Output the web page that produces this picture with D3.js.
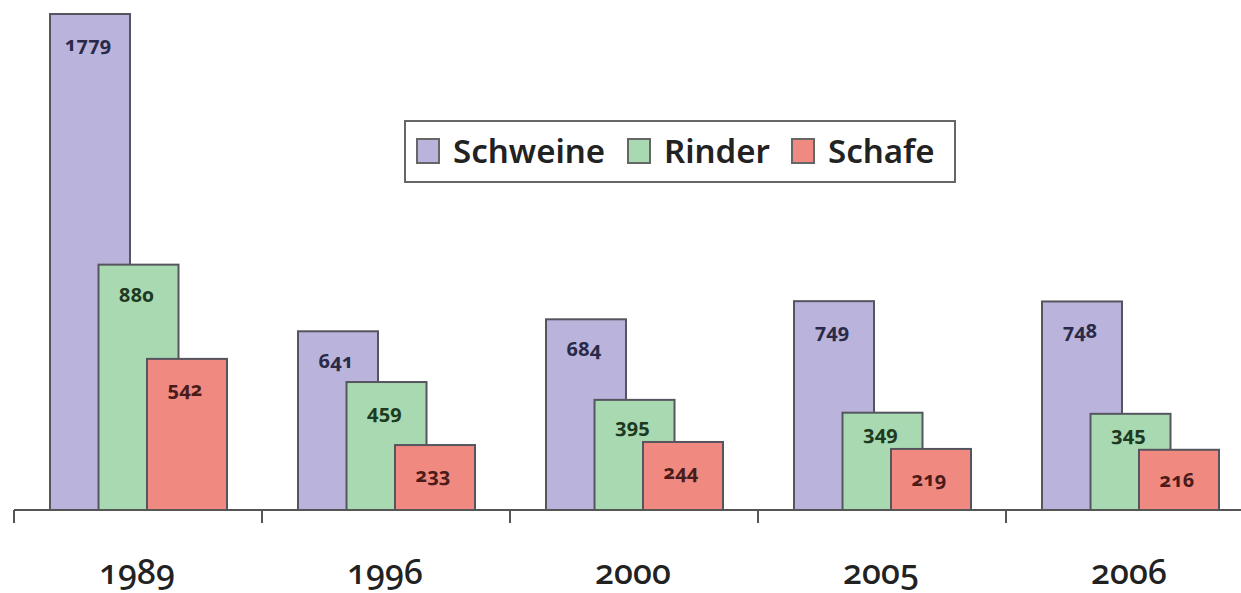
<!DOCTYPE html>
<html lang="de">
<head>
    <meta charset="UTF-8">
    <title>Schweine, Rinder, Schafe</title>
    <style>
        body {
            margin: 0;
            background: #fff;
        }
        svg text {
            font-family: "Noto Sans", "Open Sans", sans-serif;
            font-variant-numeric: oldstyle-nums;
        }
        .bar {
            stroke: #55555f;
            stroke-width: 2px;
        }
        .val {
            font-size: 20px;
            font-weight: 700;
            text-anchor: middle;
        }
        .year {
            font-size: 34px;
            font-weight: 500;
            fill: #222;
            text-anchor: middle;
        }
        .legend-text {
            font-size: 33px;
            font-weight: 600;
            fill: #222;
        }
    </style>
</head>
<body>
<svg id="chart" width="1241" height="593"></svg>

<script src="https://d3js.org/d3.v7.min.js"></script>
<script>
const years = ['1989', '1996', '2000', '2005', '2006'];
const seriesNames = ['Schweine', 'Rinder', 'Schafe'];
const schweine = [1779, 641, 684, 749, 748];
const rinder = [880, 459, 395, 349, 345];
const schafe = [542, 233, 244, 219, 216];

const fills = ['#bab4dc', '#a9d9b1', '#f08a81'];
const textColors = ['#2a2a48', '#1e3a22', '#4a1b18'];

const svg = d3.select('#chart');
const baseY = 510;

const x = d3.scaleBand()
    .domain(years)
    .range([14, 1254])
    .padding(0);

// the three bars of a year overlap each other
const xs = d3.scalePoint()
    .domain(seriesNames)
    .range([36, 133]);
const barW = 80;

const y = d3.scaleLinear()
    .domain([0, 1800])
    .range([baseY, baseY - 1800 * 0.2788]);

const seriesData = [schweine, rinder, schafe];
const rows = [];
years.forEach((yr, i) => {
    seriesData.forEach((arr, s) => {
        // the next bar covers the lower part, so keep the label above it
        const next = seriesData[s + 1];
        rows.push({year: yr, s: s, name: seriesNames[s], v: arr[i], next: next ? next[i] : null});
    });
});

// bars, drawn so that later series sit on top of earlier ones
const bars = svg.append('g');
bars.selectAll('rect')
    .data(rows)
    .enter().append('rect')
    .attr('class', 'bar')
    .attr('x', d => x(d.year) + xs(d.name))
    .attr('y', d => y(d.v))
    .attr('width', barW)
    .attr('height', d => baseY - y(d.v))
    .attr('fill', d => fills[d.s]);

bars.selectAll('text')
    .data(rows)
    .enter().append('text')
    .attr('class', 'val')
    .attr('x', d => x(d.year) + xs(d.name) + barW / 2 - 2)
    .attr('y', d => {
        let ty = y(d.v) + 37;
        if (d.next !== null) ty = Math.min(ty, y(d.next) - 9);
        return ty;
    })
    .attr('fill', d => textColors[d.s])
    .text(d => d.v);

// x axis: line with ticks on band borders
const axis = svg.append('g');
axis.append('line')
    .attr('x1', 14).attr('x2', 1241)
    .attr('y1', baseY).attr('y2', baseY)
    .attr('stroke', '#555').attr('stroke-width', 2);

axis.selectAll('.tick')
    .data(years)
    .enter().append('line')
    .attr('x1', d => x(d)).attr('x2', d => x(d))
    .attr('y1', baseY).attr('y2', baseY + 13)
    .attr('stroke', '#555').attr('stroke-width', 2);

axis.selectAll('.year')
    .data(years)
    .enter().append('text')
    .attr('class', 'year')
    .attr('x', d => x(d) + x.bandwidth() / 2 - 1)
    .attr('y', 584)
    .text(d => d);

// legend
const legend = svg.append('g');
legend.append('rect')
    .attr('x', 405).attr('y', 121)
    .attr('width', 550).attr('height', 61)
    .attr('fill', '#fff')
    .attr('stroke', '#666').attr('stroke-width', 2);

const legendX = [417, 628, 792];
const item = legend.selectAll('.item')
    .data(seriesNames)
    .enter().append('g')
    .attr('transform', (d, i) => `translate(${legendX[i]},139)`);

item.append('rect')
    .attr('width', 22).attr('height', 24)
    .attr('fill', (d, i) => fills[i])
    .attr('stroke', '#666').attr('stroke-width', 2);

item.append('text')
    .attr('class', 'legend-text')
    .attr('x', 36).attr('y', 24)
    .text(d => d);
</script>
</body>
</html>
